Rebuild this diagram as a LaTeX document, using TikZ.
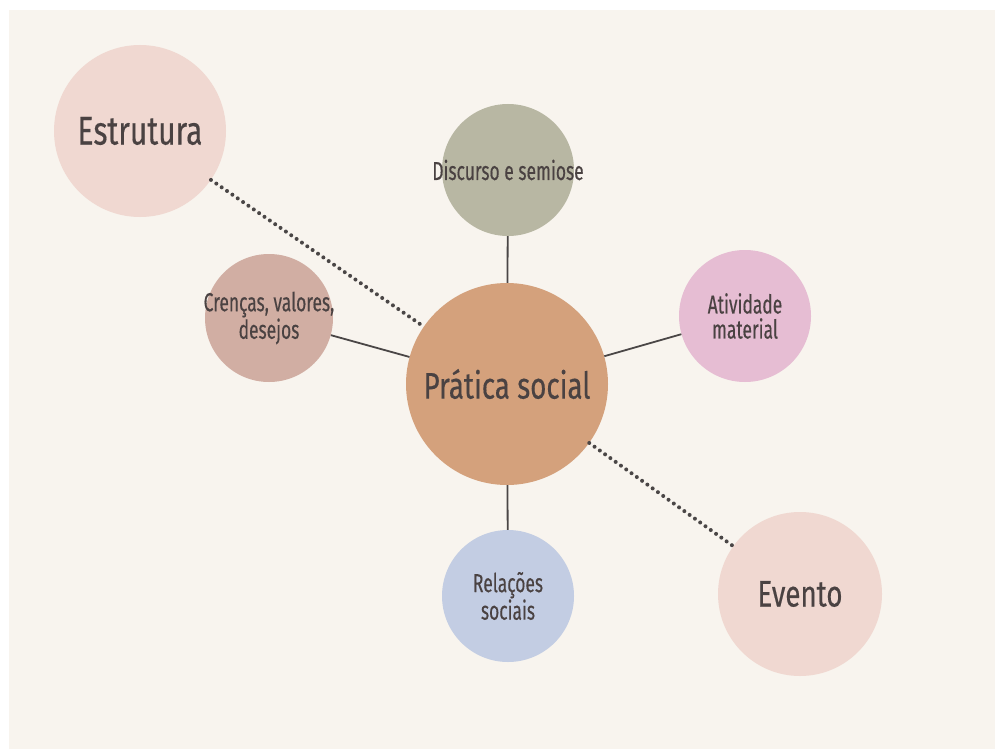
\documentclass[tikz,border=0pt]{standalone}
\usepackage{fontspec}
\newfontfamily\cf[FakeStretch=0.75,FakeBold=0.35]{Fira Sans}
\newfontfamily\cfs[FakeStretch=0.67,FakeBold=0.35]{Fira Sans}
\definecolor{bgc}{HTML}{F8F4EE}
\definecolor{txc}{HTML}{4A4242}
\definecolor{lnc}{HTML}{4A4646}
\definecolor{cEst}{HTML}{F0D8D1}
\definecolor{cDis}{HTML}{B8B7A3}
\definecolor{cAti}{HTML}{E6BDD3}
\definecolor{cCre}{HTML}{D1AEA3}
\definecolor{cPra}{HTML}{D4A17C}
\definecolor{cRel}{HTML}{C3CDE3}
\definecolor{cEve}{HTML}{F0D8D1}
\tikzset{
  bub/.style={circle, inner sep=0pt, draw=none},
  lbl/.style={text=txc, align=center, inner sep=0pt},
  bigtxt/.style={lbl, font={\cf\fontsize{40}{42}\selectfont}},
  midtxt/.style={lbl, font={\cf\fontsize{37}{40}\selectfont}},
  smalltxt/.style={lbl, font={\cfs\fontsize{26}{25}\selectfont}},
  solidlink/.style={draw=lnc, line width=1.8pt},
  dotlink/.style={draw=lnc, line width=4pt, line cap=round, dash pattern=on 0pt off 6.5pt},
}
\begin{document}
\begin{tikzpicture}[x=1pt,y=-1pt]
\useasboundingbox (0,0) rectangle (995,749);
\fill[white] (0,0) rectangle (995,749);
\fill[bgc] (9,10) rectangle (995,749);

\node[bub, fill=cPra, minimum size=202pt, label={[midtxt]center:Prática social}] (pra) at (507,384) {};
\node[bub, fill=cEst, minimum size=172pt, label={[bigtxt]center:Estrutura}] (est) at (140,131) {};
\node[bub, fill=cDis, minimum size=132pt, label={[smalltxt]center:Discurso e semiose}] (dis) at (508,170) {};
\node[bub, fill=cAti, minimum size=132pt, label={[smalltxt]center:Atividade\\material}] (ati) at (745,316) {};
\node[bub, fill=cCre, minimum size=128pt, label={[smalltxt]center:Crenças, valores,\\desejos}] (cre) at (269,318) {};
\node[bub, fill=cRel, minimum size=132pt, label={[smalltxt]center:Relações\\sociais}] (rel) at (508,596) {};
\node[bub, fill=cEve, minimum size=164pt, label={[midtxt]center:Evento}] (eve) at (800,594) {};

\draw[solidlink] (dis) -- (pra);
\draw[solidlink] (ati) -- (pra);
\draw[solidlink] (cre) -- (pra);
\draw[solidlink] (rel) -- (pra);
\draw[dotlink] (est) -- (pra);
\draw[dotlink] (pra) -- (eve);
\end{tikzpicture}
\end{document}
